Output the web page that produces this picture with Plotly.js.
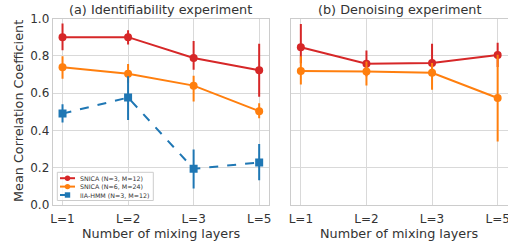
<!DOCTYPE html>
<html><head><meta charset="utf-8">
<script src="https://cdn.plot.ly/plotly-3.0.1.min.js"></script>
<style>html,body{margin:0;padding:0;background:#fff}#c{width:508px;height:244px}</style>
</head><body><div id="c"></div>
<script>
const cats = ["L=1","L=2","L=3","L=5"];
// (a) Identifiability experiment
const a_snica3 = [0.900, 0.900, 0.788, 0.723];
const a_snica3_hi = [0.973, 0.937, 0.880, 0.865];
const a_snica3_lo = [0.830, 0.860, 0.725, 0.580];
const a_snica6 = [0.738, 0.704, 0.640, 0.503];
const a_snica6_hi = [0.797, 0.756, 0.693, 0.546];
const a_snica6_lo = [0.677, 0.655, 0.555, 0.465];
const a_iia = [0.490, 0.576, 0.194, 0.228];
const a_iia_hi = [0.540, 0.690, 0.298, 0.327];
const a_iia_lo = [0.443, 0.456, 0.088, 0.133];
// (b) Denoising experiment
const b_snica3 = [0.846, 0.758, 0.761, 0.804];
const b_snica3_hi = [0.971, 0.828, 0.865, 0.870];
const b_snica3_lo = [0.760, 0.690, 0.700, 0.740];
const b_snica6 = [0.718, 0.716, 0.709, 0.574];
const b_snica6_hi = [0.797, 0.770, 0.761, 0.805];
const b_snica6_lo = [0.646, 0.641, 0.618, 0.340];

const names = ["SNICA (N=3, M=12)","SNICA (N=6, M=24)","IIA-HMM (N=3, M=12)"];
const colors = ["#d62728","#ff7f0e","#1f77b4"];
const dashes = ["solid","solid","dash"];
const symbols = ["circle","circle","square"];
const yTicks = [0, 0.2, 0.4, 0.6, 0.8, 1.0];
const yTickText = ["0.0","0.2","0.4","0.6","0.8","1.0"];

function tr(y, hi, lo, i, xa, ya){
  return {x: cats, y: y, type:'scatter', mode:'lines+markers', name: names[i],
    xaxis: xa, yaxis: ya, showlegend: false,
    line:{color: colors[i], width:2, dash: dashes[i]},
    marker:{color: colors[i], size: 8, symbol: symbols[i]},
    error_y:{type:'data', symmetric:false,
      array: hi.map((h,k)=>h-y[k]), arrayminus: y.map((v,k)=>v-lo[k]),
      color: colors[i], thickness: 2, width: 0}};
}
const data = [
  tr(a_snica3, a_snica3_hi, a_snica3_lo, 0, 'x', 'y'),
  tr(a_snica6, a_snica6_hi, a_snica6_lo, 1, 'x', 'y'),
  tr(a_iia, a_iia_hi, a_iia_lo, 2, 'x', 'y'),
  tr(b_snica3, b_snica3_hi, b_snica3_lo, 0, 'x2', 'y2'),
  tr(b_snica6, b_snica6_hi, b_snica6_lo, 1, 'x2', 'y2')
];
const txt = '#333333';
const W = 508, H = 244;
const px = v => v / W, py = v => 1 - v / H;
const ax = {type:'category', range:[-0.15,3.15], showgrid:true, gridcolor:'#d9d9d9', gridwidth:1,
  showline:true, mirror:true, linecolor:'#cccccc', linewidth:1, ticks:'', zeroline:false,
  ticklabelstandoff:3, tickfont:{family:'DejaVu Sans', size:12, color:txt}};
const ay = {range:[0,1], tickvals:yTicks, ticktext:yTickText,
  showgrid:true, gridcolor:'#d9d9d9', gridwidth:1, showline:true, mirror:true, linecolor:'#cccccc', linewidth:1,
  ticks:'', zeroline:false, tickfont:{family:'DejaVu Sans', size:12, color:txt}};

// custom compact legend (matplotlib-style)
const legX0 = 57.3, legX1 = 153.3, legY0 = 172.3, legY1 = 200.5;
const legRows = [178.2, 186.6, 195.0];
const shapes = [{type:'rect', xref:'paper', yref:'paper', x0:px(legX0), x1:px(legX1), y0:py(legY1), y1:py(legY0),
  line:{color:'#cccccc', width:1}, fillcolor:'rgba(255,255,255,0.8)', layer:'above'}];
const legAnn = [];
names.forEach((n,i)=>{
  shapes.push({type:'line', xref:'paper', yref:'paper', x0:px(60), x1:px(75), y0:py(legRows[i]), y1:py(legRows[i]),
    line:{color:colors[i], width:2, dash: i===2 ? 'dash' : 'solid'}, layer:'above'});
  shapes.push({type: symbols[i]==='square' ? 'rect' : 'circle', xref:'paper', yref:'paper',
    xsizemode:'pixel', ysizemode:'pixel', xanchor:px(67.5), yanchor:py(legRows[i]),
    x0:-2.7, x1:2.7, y0:-2.7, y1:2.7, fillcolor:colors[i], line:{width:0}, layer:'above'});
  legAnn.push({text:n, xref:'paper', yref:'paper', x:px(78), y:py(legRows[i]), xanchor:'left', yanchor:'middle',
    showarrow:false, font:{family:'DejaVu Sans', size:6.3, color:txt}});
});

const layout = {
  width:W, height:H, margin:{l:0,r:0,t:0,b:0}, paper_bgcolor:'#fff', plot_bgcolor:'#fff',
  font:{family:'DejaVu Sans', color:txt},
  xaxis: Object.assign({}, ax, {domain:[px(52.7), px(269)], anchor:'y'}),
  yaxis: Object.assign({}, ay, {domain:[py(205), py(18.5)], anchor:'x'}),
  xaxis2: Object.assign({}, ax, {domain:[px(291), px(507.5)], anchor:'y2'}),
  yaxis2: Object.assign({}, ay, {domain:[py(205), py(18.5)], anchor:'x2', showticklabels:false}),
  showlegend:false,
  shapes: shapes,
  annotations:[
    {text:'(a) Identifiability experiment', xref:'paper', yref:'paper', x:px((52.7+269)/2), y:py(9.5),
     xanchor:'center', yanchor:'middle', showarrow:false, font:{size:12.8, color:txt}},
    {text:'(b) Denoising experiment', xref:'paper', yref:'paper', x:px((291+507.5)/2), y:py(9.5),
     xanchor:'center', yanchor:'middle', showarrow:false, font:{size:12.8, color:txt}},
    {text:'Number of mixing layers', xref:'paper', yref:'paper', x:px((52.7+269)/2), y:py(233),
     xanchor:'center', yanchor:'middle', showarrow:false, font:{size:12.8, color:txt}},
    {text:'Number of mixing layers', xref:'paper', yref:'paper', x:px((291+507.5)/2), y:py(233),
     xanchor:'center', yanchor:'middle', showarrow:false, font:{size:12.8, color:txt}},
    {text:'Mean Correlation Coefficient', xref:'paper', yref:'paper', x:px(18.5), y:py(111.5),
     xanchor:'center', yanchor:'middle', showarrow:false, textangle:-90, font:{size:12.8, color:txt}}
  ].concat(legAnn)
};
Plotly.newPlot('c', data, layout, {staticPlot:true, displayModeBar:false});
</script></body></html>
